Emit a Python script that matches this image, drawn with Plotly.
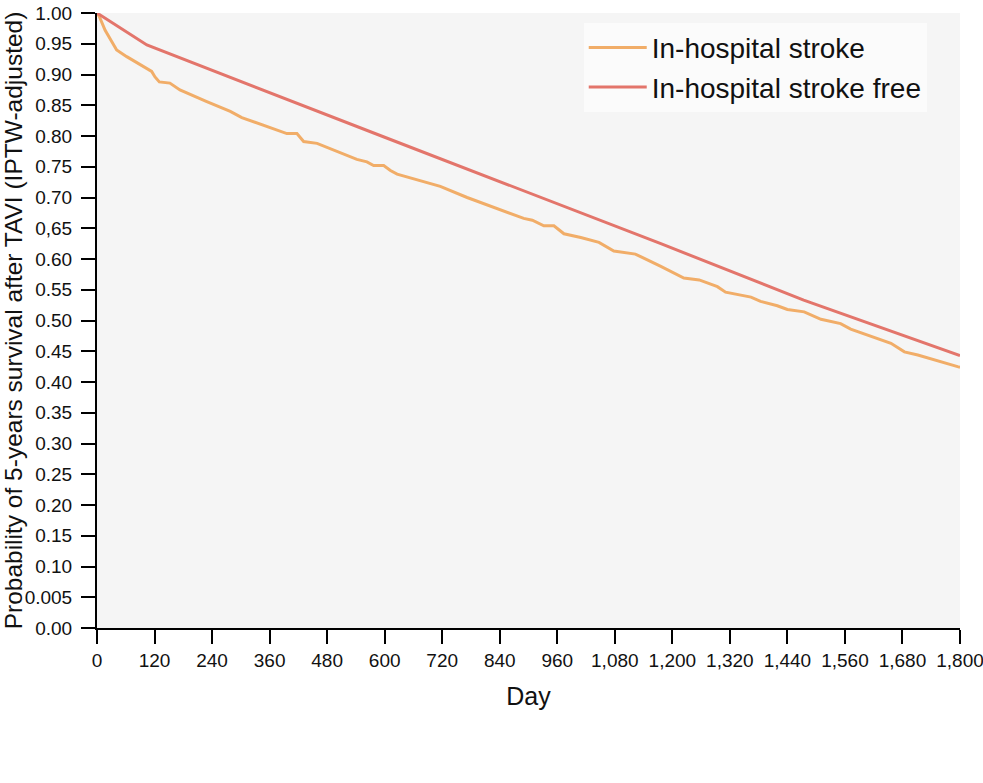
import plotly.graph_objects as go

# In-hospital stroke free (red)
free_day = [0, 104, 600, 1176, 1474, 1800]
free_surv = [1.00, 0.948, 0.798, 0.625, 0.533, 0.443]

# In-hospital stroke (orange)
stroke_day = [0, 5, 17, 41, 62, 114, 121, 130, 152, 173, 229, 278, 302, 368, 396, 417, 431, 459,
              542, 563, 577, 598, 612, 626, 716, 772, 890, 908, 932, 953, 974, 1009, 1047, 1078,
              1123, 1176, 1224, 1256, 1294, 1311, 1364, 1384, 1419, 1440, 1475, 1510, 1551, 1572,
              1607, 1656, 1684, 1712, 1795, 1800]
stroke_surv = [1.00, 0.994, 0.972, 0.940, 0.929, 0.905, 0.896, 0.888, 0.886, 0.875, 0.856, 0.840,
               0.830, 0.811, 0.804, 0.804, 0.791, 0.788, 0.762, 0.758, 0.752, 0.752, 0.744, 0.738,
               0.718, 0.700, 0.666, 0.663, 0.654, 0.654, 0.641, 0.635, 0.627, 0.613, 0.608, 0.588,
               0.569, 0.566, 0.555, 0.546, 0.538, 0.531, 0.524, 0.518, 0.514, 0.502, 0.495, 0.486,
               0.476, 0.463, 0.449, 0.444, 0.425, 0.424]

x_tickvals = [0, 120, 240, 360, 480, 600, 720, 840, 960, 1080, 1200, 1320, 1440, 1560, 1680, 1800]
x_ticktext = ["0", "120", "240", "360", "480", "600", "720", "840", "960", "1,080", "1,200",
              "1,320", "1,440", "1,560", "1,680", "1,800"]
y_tickvals = [0.00, 0.05, 0.10, 0.15, 0.20, 0.25, 0.30, 0.35, 0.40, 0.45, 0.50, 0.55, 0.60,
              0.65, 0.70, 0.75, 0.80, 0.85, 0.90, 0.95, 1.00]
y_ticktext = ["0.00", "0.005", "0.10", "0.15", "0.20", "0.25", "0.30", "0.35", "0.40", "0.45",
              "0.50", "0.55", "0.60", "0,65", "0.70", "0.75", "0.80", "0.85", "0.90", "0.95", "1.00"]

FONT = "Liberation Sans, Arial, sans-serif"

fig = go.Figure()
fig.add_trace(go.Scatter(x=stroke_day, y=stroke_surv, mode="lines", name="In-hospital stroke",
                         line=dict(color="#f1ad68", width=3)))
fig.add_trace(go.Scatter(x=free_day, y=free_surv, mode="lines", name="In-hospital stroke free",
                         line=dict(color="#e3756b", width=3)))

fig.update_layout(
    width=983, height=783,
    margin=dict(l=97, r=23, t=13, b=155),
    paper_bgcolor="white", plot_bgcolor="#f5f5f5",
    font=dict(family=FONT, color="#111111", size=19),
    showlegend=True,
    legend=dict(x=0.564, y=0.984, xanchor="left", yanchor="top",
                bgcolor="#fbfbfb", font=dict(size=28, family=FONT),
                borderwidth=0, itemwidth=58),
    xaxis=dict(range=[0, 1800], tickvals=x_tickvals, ticktext=x_ticktext, tickangle=0,
               automargin=False, ticklabeloverflow="allow",
               showgrid=False, zeroline=False, showline=True, linecolor="black", linewidth=2,
               ticks="outside", ticklen=14, tickwidth=2, tickcolor="black",
               tickfont=dict(size=19),
               title=dict(text="Day", font=dict(size=25), standoff=18)),
    yaxis=dict(range=[0, 1], tickvals=y_tickvals, ticktext=y_ticktext,
               automargin=False, ticklabelstandoff=5, ticklabeloverflow="allow",
               showgrid=False, zeroline=False, showline=True, linecolor="black", linewidth=2,
               ticks="outside", ticklen=14, tickwidth=2, tickcolor="black",
               tickfont=dict(size=19),
               title=dict(text="Probability of 5-years survival after TAVI (IPTW-adjusted)",
                          font=dict(size=24.5), standoff=4)),
)

fig.write_html("out.html", config={"displayModeBar": False},
               post_script="document.body.style.margin='0';")
